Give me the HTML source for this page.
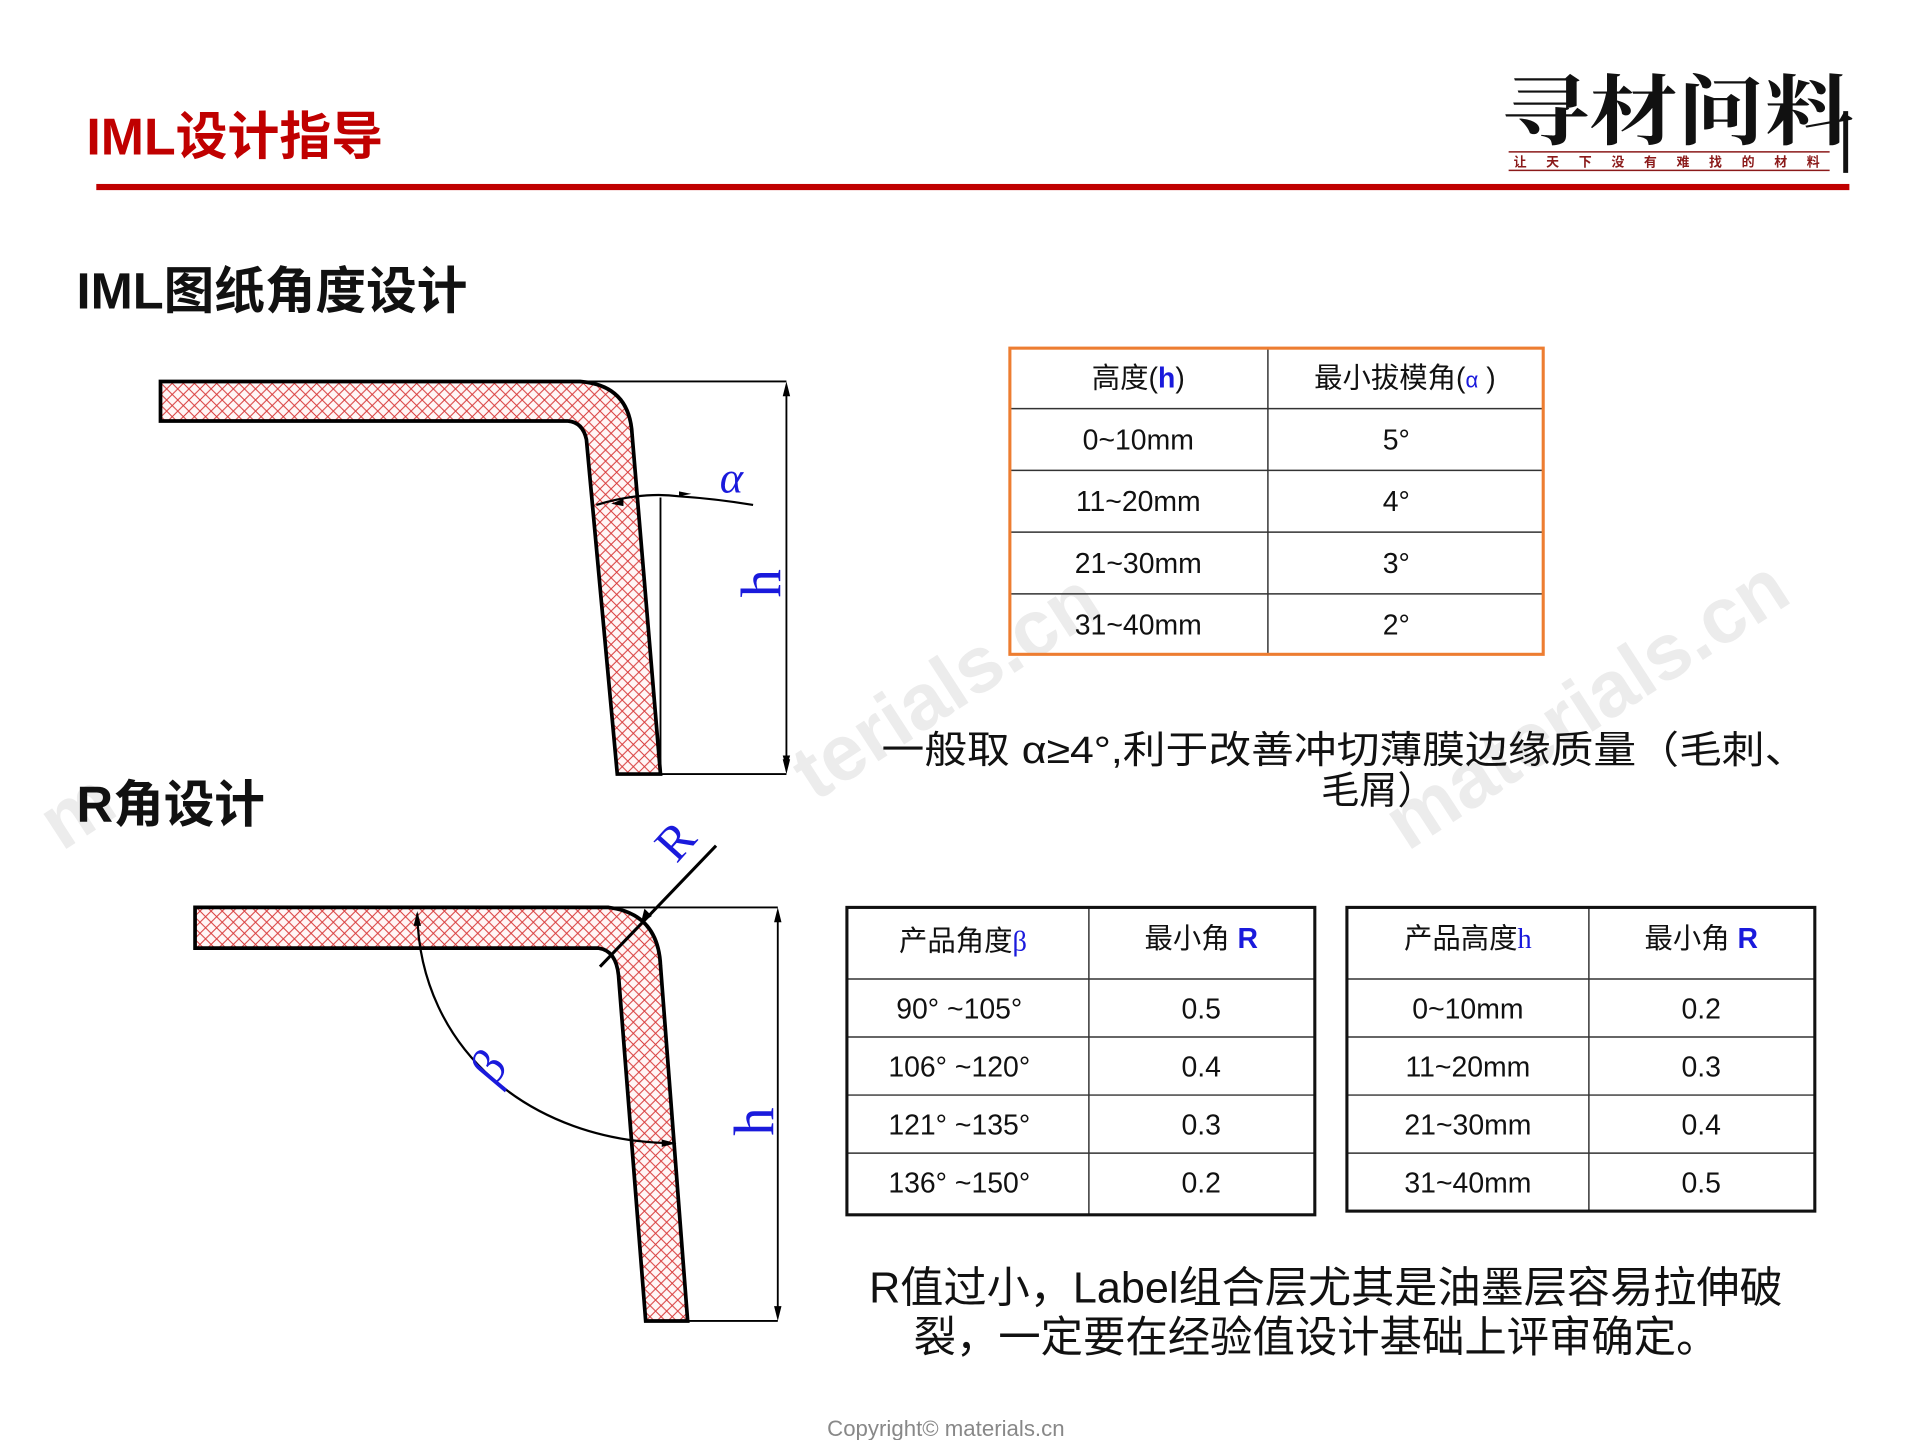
<!DOCTYPE html>
<html><head><meta charset="utf-8"><style>
html,body{margin:0;padding:0;background:#fff;}
svg{display:block;}
text{font-family:"Liberation Sans","Noto Sans CJK SC",sans-serif;}
.ser{font-family:"Liberation Serif","Noto Serif CJK SC",serif;}
</style></head><body>
<svg width="1920" height="1440" viewBox="0 0 1555.2 1166.4" xmlns="http://www.w3.org/2000/svg">
<defs>
<pattern id="hatch" width="9" height="9" patternUnits="userSpaceOnUse">
<rect width="9" height="9" fill="#fff6f6"/>
<path d="M0,0 L9,9 M9,0 L0,9" stroke="#d83a3a" stroke-width="0.8"/>
</pattern>
<marker id="ar" markerWidth="10" markerHeight="10" refX="9" refY="5" orient="auto" markerUnits="userSpaceOnUse">
<path d="M0,2 L10,5 L0,8 z" fill="#000"/>
</marker>
</defs>

<!-- watermarks -->
<g fill="#ececec" font-weight="bold" font-size="64">
<text transform="translate(660,650) rotate(-33)">terials.cn</text>
<text transform="translate(1140,690) rotate(-33)">materials.cn</text>
<text transform="translate(50,690) rotate(-33)">m</text>
</g>

<!-- header -->
<text x="70" y="125" font-size="42" font-weight="bold" fill="#c00000">IML设计指导</text>
<rect x="78" y="149" width="1420" height="5" fill="#c00000"/>

<!-- logo -->
<text x="1216" y="112" font-size="62" font-weight="bold" fill="#111" textLength="285" lengthAdjust="spacingAndGlyphs" class="ser">寻材问料</text>
<line x1="1222" y1="123" x2="1482" y2="123" stroke="#8b1a1a" stroke-width="1.2"/>
<line x1="1222" y1="138" x2="1482" y2="138" stroke="#8b1a1a" stroke-width="1.2"/>
<text x="1226" y="135" font-size="10.5" font-weight="bold" fill="#8b1a1a" textLength="248" lengthAdjust="spacing">让天下没有难找的材料</text>
<line x1="1495" y1="90" x2="1495" y2="140" stroke="#111" stroke-width="4"/>

<!-- section titles -->
<text x="62" y="250" font-size="41" font-weight="bold" fill="#111">IML图纸角度设计</text>
<text x="62" y="666" font-size="41" font-weight="bold" fill="#111">R角设计</text>

<!-- diagram 1 -->
<path d="M130,309 L470,309 Q510,312 512,352 L535,627 L500,627 L475,356 Q472,342 460,341 L130,341 Z" fill="url(#hatch)" stroke="#000" stroke-width="3"/>
<line x1="470" y1="309" x2="637" y2="309" stroke="#000" stroke-width="1.5"/>
<line x1="535" y1="627" x2="637" y2="627" stroke="#000" stroke-width="1.5"/>
<line x1="637" y1="315" x2="637" y2="621" stroke="#000" stroke-width="1.5" marker-start="url(#ar)" marker-end="url(#ar)" style="marker-start:none"/>
<path d="M637,309 l-3,12 l6,0 z" fill="#000"/>
<path d="M637,627 l-3,-12 l6,0 z" fill="#000"/>
<line x1="535" y1="403" x2="535" y2="627" stroke="#000" stroke-width="1.5"/>
<path d="M483,409 Q520,398 550,402 Q580,404 610,409" fill="none" stroke="#000" stroke-width="1.8"/>
<path d="M505,404 l-10,4 l10,2 z M550,402 l10,-2 l-10,-2z" fill="#000"/>
<text x="583" y="399" font-size="36" fill="#1a1adc" font-style="italic" class="ser">α</text>
<text transform="translate(632,484) rotate(-90)" font-size="46" fill="#1a1adc" class="ser">h</text>

<!-- table 1 -->
<g stroke="#333" stroke-width="1.2">
<line x1="1027" y1="282" x2="1027" y2="530"/>
<line x1="818" y1="331" x2="1250" y2="331"/>
<line x1="818" y1="381" x2="1250" y2="381"/>
<line x1="818" y1="431" x2="1250" y2="431"/>
<line x1="818" y1="481" x2="1250" y2="481"/>
</g>
<rect x="818" y="282" width="432" height="248" fill="none" stroke="#ed7d31" stroke-width="2.5"/>
<g font-size="23" fill="#111" text-anchor="middle">
<text x="922" y="314">高度(<tspan fill="#1a1adc" font-weight="bold">h</tspan>)</text>
<text x="1138" y="314">最小拔模角(<tspan fill="#1a1adc" font-size="18">α</tspan> )</text>
<text x="922" y="364">0~10mm</text><text x="1131" y="364">5°</text>
<text x="922" y="414">11~20mm</text><text x="1131" y="414">4°</text>
<text x="922" y="464">21~30mm</text><text x="1131" y="464">3°</text>
<text x="922" y="514">31~40mm</text><text x="1131" y="514">2°</text>
</g>

<!-- note 1 -->
<text x="714" y="618" font-size="31" fill="#111" textLength="750" lengthAdjust="spacingAndGlyphs">一般取 α≥4°,利于改善冲切薄膜边缘质量（毛刺、</text>
<text x="1070" y="651" font-size="31" fill="#111">毛屑）</text>

<!-- diagram 2 -->
<path d="M158,735 L493,735 Q533,740 535,782 L557,1070 L523,1070 L501,790 Q499,770 485,768 L158,768 Z" fill="url(#hatch)" stroke="#000" stroke-width="3"/>
<line x1="493" y1="735" x2="630" y2="735" stroke="#000" stroke-width="1.5"/>
<line x1="557" y1="1070" x2="630" y2="1070" stroke="#000" stroke-width="1.5"/>
<line x1="630" y1="740" x2="630" y2="1065" stroke="#000" stroke-width="1.5"/>
<path d="M630,735 l-3,12 l6,0 z M630,1070 l-3,-12 l6,0 z" fill="#000"/>
<path d="M338,740 C340,850 430,925 545,926" fill="none" stroke="#000" stroke-width="1.8"/>
<path d="M338,738 l-3,12 l6,0z M548,926 l-12,-3 l0,6z" fill="#000"/>
<line x1="486" y1="783" x2="580" y2="685" stroke="#000" stroke-width="2.5"/>
<path d="M519,748 l3,-12 l6,6z" fill="#000"/>
<text transform="translate(548,700) rotate(-48)" font-size="40" fill="#1a1adc" class="ser">R</text>
<text transform="translate(402,880) rotate(-60)" font-size="40" fill="#1a1adc" font-style="italic" class="ser">β</text>
<text transform="translate(626,920) rotate(-90)" font-size="46" fill="#1a1adc" class="ser">h</text>

<!-- table 2 -->
<g stroke="#333" stroke-width="1.2">
<line x1="882" y1="735" x2="882" y2="984"/>
<line x1="686" y1="793" x2="1065" y2="793"/>
<line x1="686" y1="840" x2="1065" y2="840"/>
<line x1="686" y1="887" x2="1065" y2="887"/>
<line x1="686" y1="934" x2="1065" y2="934"/>
</g>
<rect x="686" y="735" width="379" height="249" fill="none" stroke="#111" stroke-width="2.5"/>
<g font-size="23" fill="#111" text-anchor="middle">
<text x="780" y="770">产品角度<tspan fill="#1a1adc" class="ser">β</tspan></text>
<text x="973" y="768">最小角 <tspan fill="#1a1adc" font-weight="bold">R</tspan></text>
<text x="777" y="825">90° ~105°</text><text x="973" y="825">0.5</text>
<text x="777" y="872">106°  ~120°</text><text x="973" y="872">0.4</text>
<text x="777" y="919">121°  ~135°</text><text x="973" y="919">0.3</text>
<text x="777" y="966">136°  ~150°</text><text x="973" y="966">0.2</text>
</g>

<!-- table 3 -->
<g stroke="#333" stroke-width="1.2">
<line x1="1287" y1="735" x2="1287" y2="981"/>
<line x1="1091" y1="793" x2="1470" y2="793"/>
<line x1="1091" y1="840" x2="1470" y2="840"/>
<line x1="1091" y1="887" x2="1470" y2="887"/>
<line x1="1091" y1="934" x2="1470" y2="934"/>
</g>
<rect x="1091" y="735" width="379" height="246" fill="none" stroke="#111" stroke-width="2.5"/>
<g font-size="23" fill="#111" text-anchor="middle">
<text x="1189" y="768">产品高度<tspan fill="#1a1adc" class="ser">h</tspan></text>
<text x="1378" y="768">最小角 <tspan fill="#1a1adc" font-weight="bold">R</tspan></text>
<text x="1189" y="825">0~10mm</text><text x="1378" y="825">0.2</text>
<text x="1189" y="872">11~20mm</text><text x="1378" y="872">0.3</text>
<text x="1189" y="919">21~30mm</text><text x="1378" y="919">0.4</text>
<text x="1189" y="966">31~40mm</text><text x="1378" y="966">0.5</text>
</g>

<!-- note 2 -->
<text x="704" y="1055" font-size="35" fill="#111" textLength="740" lengthAdjust="spacingAndGlyphs">R值过小，Label组合层尤其是油墨层容易拉伸破</text>
<text x="740" y="1095" font-size="35" fill="#111" textLength="652" lengthAdjust="spacingAndGlyphs">裂，一定要在经验值设计基础上评审确定。</text>

<!-- copyright -->
<text x="670" y="1163" font-size="18" fill="#888">Copyright© materials.cn</text>
</svg>
</body></html>
